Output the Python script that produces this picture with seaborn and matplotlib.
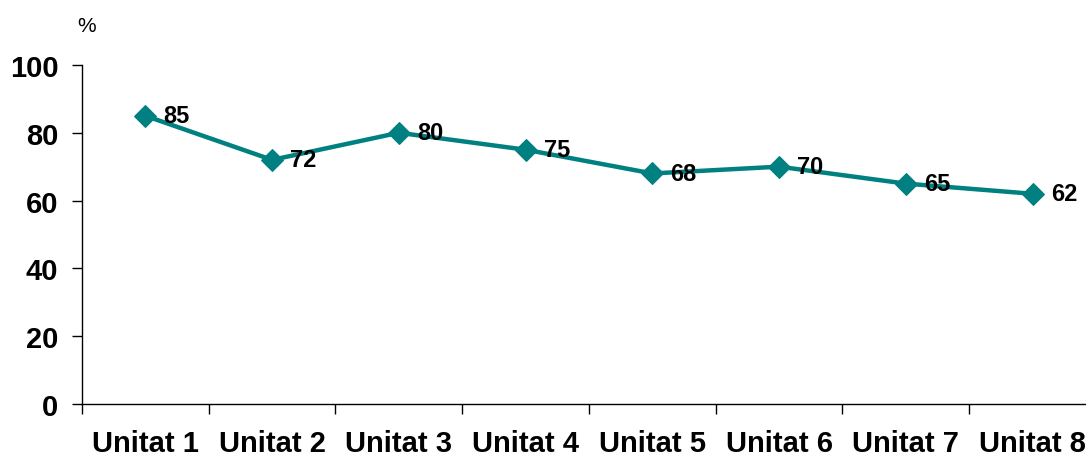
import matplotlib
matplotlib.use("Agg")
import matplotlib.pyplot as plt
import seaborn as sns
import pandas as pd
from matplotlib.ticker import FixedLocator

# Dades del gràfic
unitats = ["Unitat 1", "Unitat 2", "Unitat 3", "Unitat 4",
           "Unitat 5", "Unitat 6", "Unitat 7", "Unitat 8"]
valors = [85, 72, 80, 75, 68, 70, 65, 62]

sns.set_style("white")
plt.rcParams['font.family'] = ['Liberation Sans', 'DejaVu Sans']
plt.rcParams['text.color'] = 'black'
plt.rcParams['xtick.color'] = 'black'
plt.rcParams['ytick.color'] = 'black'

df = pd.DataFrame({'unitat': unitats, 'valor': valors})

fig = plt.figure(figsize=(10.86, 4.6), dpi=100)
ax = fig.add_axes([0.0755, 0.1196, 0.9337, 0.737])

sns.lineplot(data=df, x='unitat', y='valor', ax=ax, sort=False,
             color='#008080', linewidth=3.2, marker='D', markersize=11,
             markeredgecolor='#008080')

# Etiquetes de valor
for i, v in enumerate(valors):
    ax.annotate(str(v), (i, v), xytext=(13, 0), textcoords='offset points',
                ha='left', va='center', fontsize=17, fontweight='bold',
                color='black')

ax.set_xlim(-0.5, 7.5)
ax.set_ylim(0, 100)
ax.set_yticks([0, 20, 40, 60, 80, 100])
ax.set_xticks(range(len(unitats)))
ax.set_xticklabels(unitats)
ax.xaxis.set_minor_locator(FixedLocator([i - 0.5 for i in range(len(unitats) + 1)]))

ax.tick_params(axis='y', which='major', direction='out', length=7, width=1,
               pad=10, labelsize=21, left=True, color='black', labelcolor='black')
ax.tick_params(axis='x', which='major', length=0, pad=18, labelsize=21,
               labelcolor='black')
ax.tick_params(axis='x', which='minor', direction='out', length=7, width=1,
               bottom=True, color='black')
for lbl in ax.get_xticklabels() + ax.get_yticklabels():
    lbl.set_fontweight('bold')

ax.set_xlabel('')
ax.set_ylabel('')
for s in ['top', 'right']:
    ax.spines[s].set_visible(False)
for s in ['left', 'bottom']:
    ax.spines[s].set_color('black')
    ax.spines[s].set_linewidth(1)

fig.text(87 / 1086, 1 - 26 / 460, '%', fontsize=15, ha='center', va='center',
         color='black')

fig.savefig('out.png', dpi=100)
